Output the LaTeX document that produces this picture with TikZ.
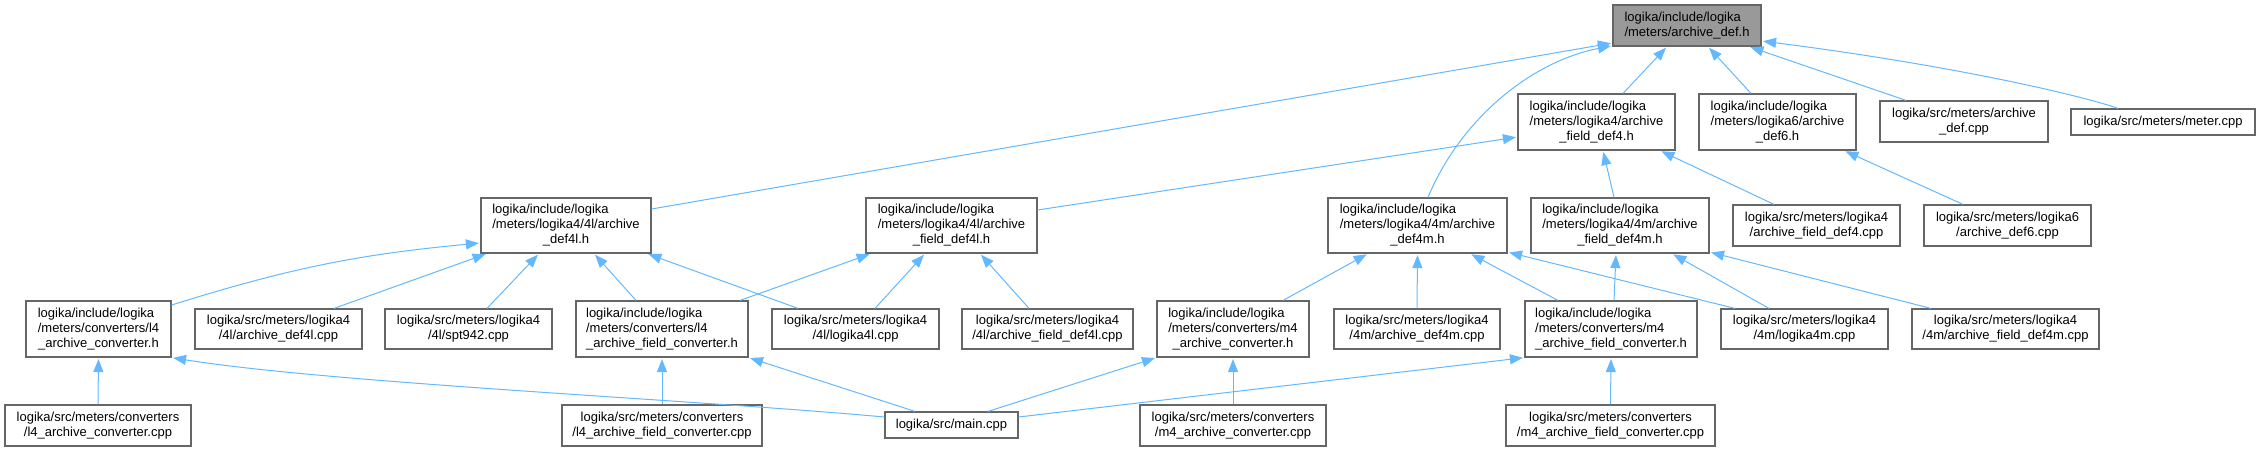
\documentclass[tikz,border=0pt]{standalone}
\usepackage{fontspec}
\setmainfont{Liberation Sans}
\usetikzlibrary{arrows.meta}
\definecolor{edgecol}{HTML}{63B8FF}
\definecolor{boxline}{HTML}{666666}
\definecolor{rootfill}{HTML}{999999}
\newcommand{\tripl}[3]{\begin{tabular}{@{}l@{}}#1\\#2\\\multicolumn{1}{@{}c@{}}{#3}\end{tabular}}
\newcommand{\dupc}[2]{\begin{tabular}{@{}c@{}}#1\\#2\end{tabular}}
\newcommand{\dupl}[2]{\begin{tabular}{@{}l@{}}#1\\#2\end{tabular}}
\tikzset{
  fbox/.style={draw=boxline, fill=white, line width=1.2pt, inner sep=0pt, font=\fontsize{13}{15}\selectfont},
  rootbox/.style={fbox, fill=rootfill},
  dep/.style={draw=edgecol, line width=1pt, -{Triangle[length=13pt,width=10pt]}, shorten >=1.5pt}
}
\begin{document}
\begin{tikzpicture}[x=1pt,y=-1pt]
\useasboundingbox (0,0) rectangle (2258,451);
% row 0
\node[rootbox, minimum width=148pt, minimum height=41pt] (A) at (1687,25.5) {\dupl{logika/include/logika}{/meters/archive\_def.h}};
% row 1
\node[fbox, minimum width=157pt, minimum height=56pt] (B) at (1596.5,122) {\tripl{logika/include/logika}{/meters/logika4/archive}{\_field\_def4.h}};
\node[fbox, minimum width=157pt, minimum height=56pt] (C) at (1777.5,122) {\tripl{logika/include/logika}{/meters/logika6/archive}{\_def6.h}};
\node[fbox, minimum width=168pt, minimum height=41pt] (D) at (1964,121.5) {\dupc{logika/src/meters/archive}{\_def.cpp}};
\node[fbox, minimum width=184pt, minimum height=26pt] (E) at (2163,122) {logika/src/meters/meter.cpp};
% row 2
\node[fbox, minimum width=170pt, minimum height=55pt] (F) at (566,225.5) {\tripl{logika/include/logika}{/meters/logika4/4l/archive}{\_def4l.h}};
\node[fbox, minimum width=171pt, minimum height=55pt] (G) at (951.5,225.5) {\tripl{logika/include/logika}{/meters/logika4/4l/archive}{\_field\_def4l.h}};
\node[fbox, minimum width=179pt, minimum height=55pt] (H) at (1417.5,225.5) {\tripl{logika/include/logika}{/meters/logika4/4m/archive}{\_def4m.h}};
\node[fbox, minimum width=178pt, minimum height=55pt] (I) at (1620,225.5) {\tripl{logika/include/logika}{/meters/logika4/4m/archive}{\_field\_def4m.h}};
\node[fbox, minimum width=167pt, minimum height=41pt] (J) at (1816.5,225.5) {\dupc{logika/src/meters/logika4}{/archive\_field\_def4.cpp}};
\node[fbox, minimum width=167pt, minimum height=41pt] (K) at (2007.5,225.5) {\dupc{logika/src/meters/logika6}{/archive\_def6.cpp}};
% row 3
\node[fbox, minimum width=145pt, minimum height=56pt] (L) at (98.5,329) {\tripl{logika/include/logika}{/meters/converters/l4}{\_archive\_converter.h}};
\node[fbox, minimum width=167pt, minimum height=40pt] (M) at (278.5,329) {\dupc{logika/src/meters/logika4}{/4l/archive\_def4l.cpp}};
\node[fbox, minimum width=167pt, minimum height=40pt] (N) at (468.5,329) {\dupc{logika/src/meters/logika4}{/4l/spt942.cpp}};
\node[fbox, minimum width=172pt, minimum height=56pt] (O) at (662,329) {\tripl{logika/include/logika}{/meters/converters/l4}{\_archive\_field\_converter.h}};
\node[fbox, minimum width=167pt, minimum height=40pt] (P) at (855.5,329) {\dupc{logika/src/meters/logika4}{/4l/logika4l.cpp}};
\node[fbox, minimum width=171pt, minimum height=40pt] (Q) at (1047.5,329) {\dupc{logika/src/meters/logika4}{/4l/archive\_field\_def4l.cpp}};
\node[fbox, minimum width=152pt, minimum height=56pt] (R) at (1233,329) {\tripl{logika/include/logika}{/meters/converters/m4}{\_archive\_converter.h}};
\node[fbox, minimum width=166pt, minimum height=40pt] (S) at (1417,329) {\dupc{logika/src/meters/logika4}{/4m/archive\_def4m.cpp}};
\node[fbox, minimum width=172pt, minimum height=56pt] (T) at (1611,329) {\tripl{logika/include/logika}{/meters/converters/m4}{\_archive\_field\_converter.h}};
\node[fbox, minimum width=167pt, minimum height=40pt] (U) at (1804.5,329) {\dupc{logika/src/meters/logika4}{/4m/logika4m.cpp}};
\node[fbox, minimum width=187pt, minimum height=40pt] (V) at (2005.5,329) {\dupc{logika/src/meters/logika4}{/4m/archive\_field\_def4m.cpp}};
% row 4
\node[fbox, minimum width=186pt, minimum height=41pt] (W) at (98,425.5) {\dupc{logika/src/meters/converters}{/l4\_archive\_converter.cpp}};
\node[fbox, minimum width=200pt, minimum height=41pt] (X) at (662,425.5) {\dupc{logika/src/meters/converters}{/l4\_archive\_field\_converter.cpp}};
\node[fbox, minimum width=133pt, minimum height=26pt] (Y) at (951.5,425) {logika/src/main.cpp};
\node[fbox, minimum width=186pt, minimum height=41pt] (Z) at (1233,425.5) {\dupc{logika/src/meters/converters}{/m4\_archive\_converter.cpp}};
\node[fbox, minimum width=209pt, minimum height=41pt] (AA) at (1610.5,425.5) {\dupc{logika/src/meters/converters}{/m4\_archive\_field\_converter.cpp}};
% edges into A
\draw[dep] ([yshift=16.5pt]F.east) -- ([yshift=-17.5pt]A.west);
\draw[dep] ([xshift=10.5pt]H.north) .. controls (1460,120) and (1530,62) .. ([yshift=1pt]A.south west);
\draw[dep] ([xshift=26.5pt]B.north) -- ([xshift=-20pt]A.south);
\draw[dep] ([xshift=-26.5pt]C.north) -- ([xshift=21pt]A.south);
\draw[dep] ([xshift=-58pt]D.north) -- ([xshift=62pt]A.south);
\draw[dep] ([xshift=-45pt]E.north) .. controls (2080,95) and (1950,65) .. ([yshift=-15.5pt]A.east);
% edges into B, C
\draw[dep] ([yshift=15.5pt]G.east) -- ([yshift=-15pt]B.west);
\draw[dep] ([xshift=-6pt]I.north) -- ([xshift=6.5pt]B.south);
\draw[dep] ([xshift=-42.5pt]J.north) -- ([xshift=63.5pt]B.south);
\draw[dep] ([xshift=-44.5pt]K.north) -- ([xshift=66.5pt]C.south);
% edges into F
\draw[dep] ([yshift=24pt]L.east) to[bend left=6] ([yshift=-17.5pt]F.west);
\draw[dep] ([xshift=55.5pt]M.north) -- ([xshift=-79pt]F.south);
\draw[dep] ([xshift=18.5pt]N.north) -- ([xshift=-27pt]F.south);
\draw[dep] ([xshift=-26pt]O.north) -- ([xshift=28pt]F.south);
\draw[dep] ([xshift=-57.5pt]P.north) -- ([xshift=81pt]F.south);
% edges into G
\draw[dep] ([xshift=78pt]O.north) -- ([xshift=-80.5pt]G.south);
\draw[dep] ([xshift=19.5pt]P.north) -- ([xshift=-26.5pt]G.south);
\draw[dep] ([xshift=-18.5pt]Q.north) -- ([xshift=28.5pt]G.south);
% edges into H
\draw[dep] ([xshift=50pt]R.north) -- ([xshift=-49.5pt]H.south);
\draw[dep] (S.north) -- (H.south);
\draw[dep] ([xshift=-53pt]T.north) -- ([xshift=52.5pt]H.south);
\draw[dep] ([xshift=-69.5pt]U.north) -- ([yshift=1.5pt]H.south east);
% edges into I
\draw[dep] ([xshift=3pt]T.north) -- ([xshift=-4pt]I.south);
\draw[dep] ([xshift=-35.5pt]U.north) -- ([xshift=52pt]I.south);
\draw[dep] ([xshift=-74.5pt]V.north) -- ([yshift=1.5pt]I.south east);
% converter edges
\draw[dep] (W.north) -- (L.south);
\draw[dep] ([yshift=8pt]Y.west) .. controls (700,400) and (330,383) .. (L.south east);
\draw[dep] (X.north) -- (O.south);
\draw[dep] ([xshift=-36.5pt]Y.north) -- (O.south east);
\draw[dep] ([xshift=36.5pt]Y.north) -- (R.south west);
\draw[dep] (Z.north) -- (R.south);
\draw[dep] ([yshift=8pt]Y.east) -- (T.south west);
\draw[dep] (AA.north) -- (T.south);
\end{tikzpicture}
\end{document}
